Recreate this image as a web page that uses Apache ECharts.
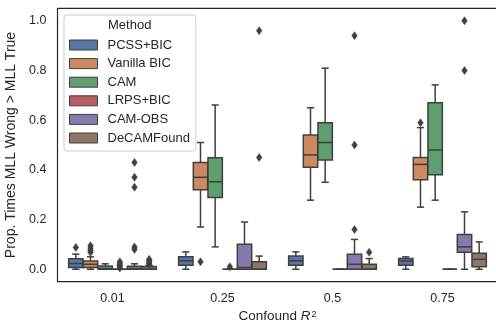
<!DOCTYPE html>
<html>
<head>
<meta charset="utf-8">
<script src="https://cdn.jsdelivr.net/npm/echarts@6/dist/echarts.min.js"></script>
<style>
html,body{margin:0;padding:0;background:#fff;}
#chart{width:496px;height:323px;}
</style>
</head>
<body>
<div id="chart"></div>
<script>
// ---- data ----
const categories = ['0.01', '0.25', '0.5', '0.75'];
const methods = ['PCSS+BIC', 'Vanilla BIC', 'CAM', 'LRPS+BIC', 'CAM-OBS', 'DeCAMFound'];
const yTicks = [0.0, 0.2, 0.4, 0.6, 0.8, 1.0];

// per category: [lower whisker, Q1, median, Q3, upper whisker]
const pcssBic    = [[0, 0.007, 0.023, 0.042, 0.061], [0, 0.0165, 0.034, 0.05, 0.07], [0, 0.0165, 0.034, 0.053, 0.07], [0, 0.0165, 0.033, 0.0435, 0.05]];
const vanillaBic = [[0, 0.007, 0.02, 0.033, 0.05], [0.17, 0.32, 0.37, 0.43, 0.51], [0.278, 0.41, 0.46, 0.54, 0.65], [0.25, 0.36, 0.422, 0.45, 0.57]];
const cam        = [[0, 0, 0.003, 0.013, 0.022], [0.09, 0.289, 0.352, 0.449, 0.661], [0.35, 0.44, 0.51, 0.59, 0.809], [0.278, 0.38, 0.48, 0.67, 0.742]];
const lrpsBic    = [[0, 0, 0, 0, 0], [0, 0, 0, 0, 0], [0, 0, 0, 0, 0], [0, 0, 0, 0, 0]];
const camObs     = [[0, 0, 0.003, 0.012, 0.022], [0, 0, 0.007, 0.101, 0.19], [0, 0, 0.02, 0.06, 0.12], [0, 0.068, 0.09, 0.14, 0.231]];
const deCamFound = [[0, 0, 0, 0.011, 0.015], [0, 0, 0, 0.03, 0.053], [0, 0, 0, 0.02, 0.043], [0, 0.01, 0.04, 0.064, 0.11]];

// outliers per category
const pcssBicOut    = [[0.088], [], [], []];
const vanillaBicOut = [[0.068, 0.076, 0.085, 0.095], [0.03], [], [0.59]];
const camOut        = [[], [], [], []];
const lrpsBicOut    = [[0.005, 0.01, 0.015, 0.02, 0.025, 0.03], [0.01], [], []];
const camObsOut     = [[0.08, 0.09, 0.33, 0.37, 0.43], [], [0.16, 0.5, 0.94], [0.8, 1.0]];
const deCamFoundOut = [[0.02, 0.025, 0.03, 0.035, 0.04], [0.45, 0.96], [0.068], []];

const boxStats = [pcssBic, vanillaBic, cam, lrpsBic, camObs, deCamFound];
const outStats = [pcssBicOut, vanillaBicOut, camOut, lrpsBicOut, camObsOut, deCamFoundOut];

// ---- styling ----
const colors = ['#5875A4', '#CC8963', '#5F9E6E', '#B55D60', '#857AAB', '#8D7866'];
const lineColor = '#3f3f3f';
const textColor = '#262626';
const fontFamily = "'Liberation Sans', Arial, sans-serif";
const nHue = methods.length;

function hueOffset(hue, band) {
  return (hue - (nHue - 1) / 2) * band * 0.8 / nHue;
}

function makeBoxRender(hue) {
  return function (params, api) {
    const cat = api.value(0);
    const lo = api.value(1), q1 = api.value(2), med = api.value(3), q3 = api.value(4), hi = api.value(5);
    const band = api.size([1, 0])[0];
    const w = band * 0.8 / nHue * 0.98;
    const cx = api.coord([cat, 0])[0] + hueOffset(hue, band);
    const y = v => api.coord([cat, v])[1];
    const ls = { stroke: lineColor, lineWidth: 1.5 };
    return {
      type: 'group',
      children: [
        { type: 'line', shape: { x1: cx, y1: y(q1), x2: cx, y2: y(lo) }, style: ls },
        { type: 'line', shape: { x1: cx, y1: y(q3), x2: cx, y2: y(hi) }, style: ls },
        { type: 'line', shape: { x1: cx - w / 4, y1: y(lo), x2: cx + w / 4, y2: y(lo) }, style: ls },
        { type: 'line', shape: { x1: cx - w / 4, y1: y(hi), x2: cx + w / 4, y2: y(hi) }, style: ls },
        { type: 'rect', shape: { x: cx - w / 2, y: y(q3), width: w, height: y(q1) - y(q3) },
          style: { fill: colors[hue], stroke: lineColor, lineWidth: 1.5 } },
        { type: 'line', shape: { x1: cx - w / 2, y1: y(med), x2: cx + w / 2, y2: y(med) }, style: ls }
      ]
    };
  };
}

function renderOutlier(params, api) {
  const cat = api.value(0);
  const hue = api.value(1);
  const band = api.size([1, 0])[0];
  const p = api.coord([cat, api.value(2)]);
  const cx = p[0] + hueOffset(hue, band), cy = p[1];
  return {
    type: 'polygon',
    shape: { points: [[cx, cy - 4], [cx + 2.8, cy], [cx, cy + 4], [cx - 2.8, cy]] },
    style: { fill: lineColor, stroke: lineColor, lineWidth: 0.5 }
  };
}

const series = [];
methods.forEach(function (m, h) {
  series.push({
    name: m,
    type: 'custom',
    renderItem: makeBoxRender(h),
    itemStyle: { color: colors[h] },
    encode: { x: 0, y: [1, 2, 3, 4, 5] },
    data: boxStats[h].map(function (s, c) { return [c].concat(s); }),
    clip: false,
    z: 2
  });
});
const outlierData = [];
outStats.forEach(function (arr, h) {
  arr.forEach(function (vals, c) {
    vals.forEach(function (v) { outlierData.push([c, h, v]); });
  });
});
series.push({
  name: 'outliers',
  type: 'custom',
  renderItem: renderOutlier,
  encode: { x: 0, y: 2 },
  data: outlierData,
  clip: false,
  z: 3
});

const chart = echarts.init(document.getElementById('chart'), null, { renderer: 'canvas' });
chart.setOption({
  animation: false,
  backgroundColor: '#ffffff',
  textStyle: { fontFamily: fontFamily },
  title: {
    text: 'Method',
    left: 108,
    top: 19,
    padding: 0,
    z: 10,
    textStyle: { fontSize: 13, fontWeight: 'normal', color: textColor, fontFamily: fontFamily }
  },
  legend: {
    data: methods.map(function (m, h) {
      return { name: m, itemStyle: { color: colors[h], borderColor: lineColor, borderWidth: 1 } };
    }),
    orient: 'vertical',
    left: 64,
    top: 15,
    padding: [23, 6, 6, 5],
    itemGap: 4.6,
    itemWidth: 28,
    itemHeight: 10,
    icon: 'rect',
    selectedMode: false,
    backgroundColor: 'rgba(255,255,255,0.85)',
    borderColor: '#cccccc',
    borderWidth: 1,
    borderRadius: 3,
    z: 8,
    textStyle: { fontSize: 13, lineHeight: 14, color: textColor, padding: [0, 0, 0, 5], fontFamily: fontFamily }
  },
  grid: {
    left: 57.5,
    top: 8.3,
    width: 440,
    height: 273.4,
    show: true,
    borderColor: '#262626',
    borderWidth: 1.2,
    containLabel: false,
    outerBoundsMode: 'none'
  },
  xAxis: {
    type: 'category',
    data: categories,
    boundaryGap: true,
    axisLine: { show: false },
    axisTick: { show: false },
    splitLine: { show: false },
    axisLabel: { fontSize: 12.5, color: textColor, margin: 10, fontFamily: fontFamily },
    name: 'Confound {i|R}{s|2}',
    nameLocation: 'middle',
    nameGap: 24,
    nameTextStyle: {
      fontSize: 13.5, color: textColor, fontFamily: fontFamily,
      rich: {
        i: { fontSize: 13.5, fontStyle: 'italic', color: textColor, fontFamily: fontFamily },
        s: { fontSize: 9, verticalAlign: 'top', lineHeight: 9, color: textColor, fontFamily: fontFamily, padding: [0, 0, 0, 1] }
      }
    }
  },
  yAxis: {
    type: 'value',
    min: -0.05,
    max: 1.05,
    axisLine: { show: false },
    axisTick: { show: false },
    splitLine: { show: false },
    axisLabel: {
      customValues: yTicks,
      fontSize: 12.5,
      color: textColor,
      margin: 11,
      fontFamily: fontFamily,
      formatter: function (v) { return Number(v).toFixed(1); }
    },
    name: 'Prop. Times MLL Wrong > MLL True',
    nameLocation: 'middle',
    nameGap: 30,
    nameTextStyle: { fontSize: 14, color: textColor, fontFamily: fontFamily }
  },
  series: series
});
</script>
</body>
</html>
